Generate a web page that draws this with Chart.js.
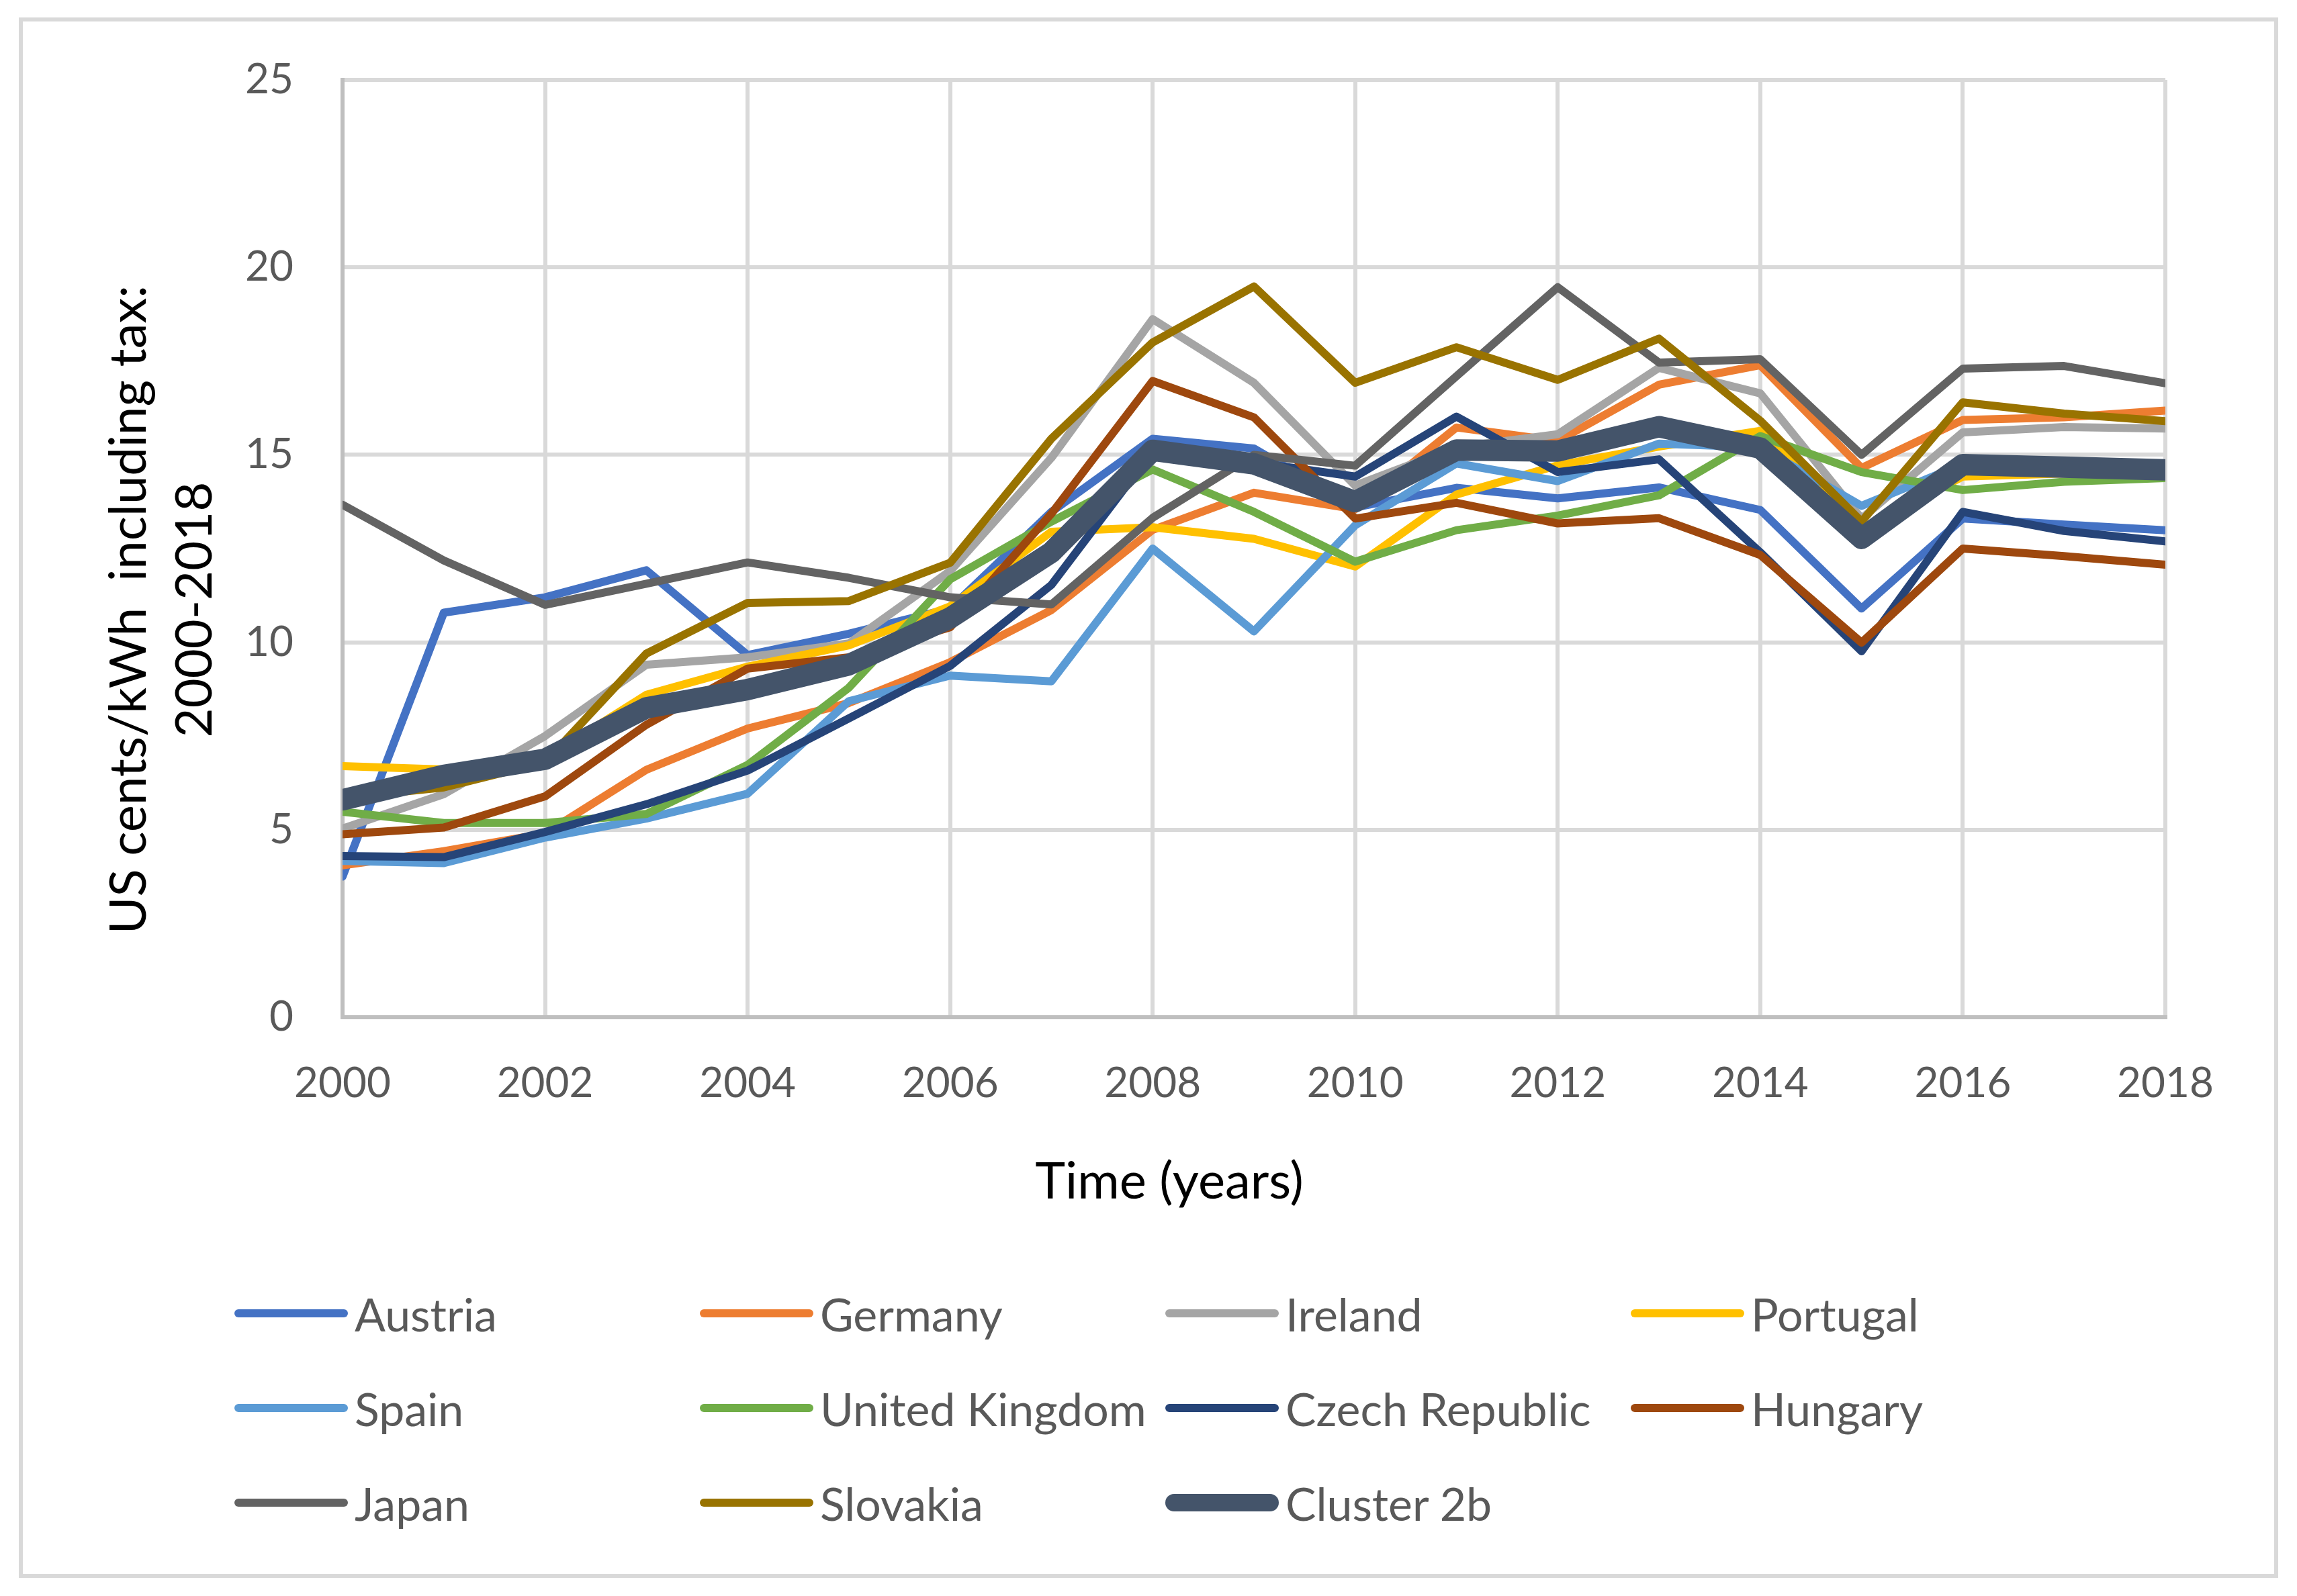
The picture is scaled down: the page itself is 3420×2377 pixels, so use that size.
<!DOCTYPE html>
<html>
<head>
<meta charset="utf-8">
<title>US cents/kWh including tax 2000-2018</title>
<script src="https://cdn.jsdelivr.net/npm/chart.js@4.4.1/dist/chart.umd.min.js"></script>
<style>
  html, body { margin: 0; padding: 0; background: #fff; }
  body { width: 3420px; height: 2377px; position: relative; overflow: hidden; font-family: Lato, "Open Sans", sans-serif; }
  #frame { position: absolute; left: 28px; top: 26px; width: 3364px; height: 2324px; box-sizing: border-box; border: 6px solid #d9d9d9; background: #fff; }
  #plot { position: absolute; left: 0; top: 0; width: 3352px; height: 1800px; }
  .item { position: absolute; height: 100px; display: flex; align-items: center; font-size: 68px; color: #595959; white-space: nowrap; }
  .swatch { display: inline-block; width: 169px; margin-right: 10px; }
</style>
</head>
<body>
<div id="frame">
  <div id="plot"><canvas id="chart"></canvas></div>
  <div id="legend"></div>
</div>
<script>
// Values
const years = [2000, 2001, 2002, 2003, 2004, 2005, 2006, 2007, 2008, 2009,
               2010, 2011, 2012, 2013, 2014, 2015, 2016, 2017, 2018];

const austria  = [3.75, 10.79, 11.2, 11.92, 9.66, 10.23, 10.9, 13.48, 15.43, 15.17, 13.6, 14.12, 13.84, 14.13, 13.53, 10.9, 13.3, 13.14, 12.99];
const germany  = [4.05, 4.43, 4.9, 6.6, 7.7, 8.38, 9.47, 10.86, 13.0, 13.99, 13.55, 15.73, 15.37, 16.87, 17.39, 14.65, 15.93, 16.0, 16.18];
const ireland  = [5.03, 5.95, 7.5, 9.4, 9.6, 9.97, 11.9, 14.92, 18.62, 16.92, 14.18, 15.2, 15.55, 17.32, 16.64, 13.3, 15.6, 15.74, 15.7];
const portugal = [6.7, 6.61, 6.9, 8.6, 9.35, 9.92, 10.96, 12.95, 13.07, 12.76, 12.02, 13.94, 14.72, 15.22, 15.64, 13.0, 14.42, 14.5, 14.5];
const spain    = [4.17, 4.11, 4.79, 5.3, 5.96, 8.43, 9.11, 8.96, 12.5, 10.29, 13.12, 14.77, 14.3, 15.3, 15.2, 13.64, 14.75, 14.7, 14.6];
const uk       = [5.48, 5.18, 5.18, 5.42, 6.73, 8.79, 11.68, 13.22, 14.61, 13.48, 12.15, 12.99, 13.38, 13.92, 15.5, 14.54, 14.06, 14.28, 14.38];
const czech    = [4.3, 4.27, 4.94, 5.68, 6.58, 7.97, 9.37, 11.53, 15.1, 14.8, 14.42, 16.02, 14.54, 14.88, 12.4, 9.76, 13.48, 12.97, 12.69];
const hungary  = [4.88, 5.06, 5.89, 7.8, 9.3, 9.6, 10.4, 13.43, 16.97, 16.0, 13.3, 13.72, 13.17, 13.31, 12.33, 9.99, 12.5, 12.3, 12.07];
const japan    = [13.67, 12.18, 11.0, 11.56, 12.13, 11.72, 11.2, 11.01, 13.32, 15.0, 14.71, 17.1, 19.47, 17.46, 17.55, 15.0, 17.3, 17.37, 16.91];
const slovakia = [5.85, 6.13, 6.8, 9.7, 11.05, 11.1, 12.12, 15.43, 18.0, 19.49, 16.92, 17.87, 17.0, 18.1, 15.91, 13.22, 16.4, 16.1, 15.9];
const cluster  = [5.8, 6.45, 6.88, 8.25, 8.74, 9.4, 10.65, 12.4, 15.12, 14.76, 13.75, 15.13, 15.1, 15.75, 15.18, 12.77, 14.74, 14.67, 14.6];

const seriesNames = ['Austria', 'Germany', 'Ireland', 'Portugal', 'Spain', 'United Kingdom',
                     'Czech Republic', 'Hungary', 'Japan', 'Slovakia', 'Cluster 2b'];
const seriesValues = [austria, germany, ireland, portugal, spain, uk, czech, hungary, japan, slovakia, cluster];
const yTicks = [0, 5, 10, 15, 20, 25];
const xTicks = [2000, 2002, 2004, 2006, 2008, 2010, 2012, 2014, 2016, 2018];

const xTitle = 'Time (years)';
const yTitle = ['US cents/kWh  including tax:', '2000-2018'];

// Excel office palette
const colours = ['#4472C4', '#ED7D31', '#A5A5A5', '#FFC000', '#5B9BD5', '#70AD47',
                 '#264478', '#9E480E', '#636363', '#997300', '#44546A'];

const TICK_FONT = { family: 'Lato', size: 62 };

// axis titles placed where the reference has them (not centred on the plot)
const axisTitles = {
    id: 'axisTitles',
    afterDraw(chart) {
        const ctx = chart.ctx;
        ctx.save();
        ctx.fillStyle = '#000';
        ctx.font = '76px Lato';
        ctx.textAlign = 'center';
        ctx.textBaseline = 'middle';
        ctx.fillText(xTitle, 1707, 1728);
        ctx.translate(158, 876);
        ctx.rotate(-Math.PI / 2);
        ctx.fillText(yTitle[0], 0, 0);
        ctx.fillText(yTitle[1], 0, 98);
        ctx.restore();
    }
};

function draw() {
    const last = seriesNames.length - 1;
    const datasets = seriesNames.map((name, i) => ({
        label: name,
        data: years.map((yr, j) => ({ x: yr, y: seriesValues[i][j] })),
        borderColor: colours[i],
        backgroundColor: colours[i],
        borderWidth: i === last ? 32 : 12,
        borderCapStyle: 'round',
        borderJoinStyle: 'round',
        pointRadius: 0,
        tension: 0,
        fill: false,
        order: seriesNames.length - i   // later series drawn on top, like Excel
    }));

    new Chart(document.getElementById('chart'), {
        type: 'line',
        data: { datasets },
        options: {
            responsive: true,
            maintainAspectRatio: false,
            devicePixelRatio: 1,
            animation: false,
            layout: { padding: { top: 87, right: 162, bottom: 0, left: 0 } },
            plugins: {
                legend: { display: false },
                tooltip: { enabled: false }
            },
            scales: {
                x: {
                    type: 'linear',
                    min: 2000,
                    max: 2018,
                    afterBuildTicks: scale => { scale.ticks = xTicks.map(v => ({ value: v })); },
                    afterFit: scale => { scale.height = 1800 - 1483; },
                    grid: { color: '#d9d9d9', lineWidth: 6, drawTicks: false },
                    border: { color: '#bfbfbf', width: 6 },
                    ticks: {
                        padding: 62,
                        color: '#595959',
                        font: TICK_FONT,
                        maxRotation: 0,
                        autoSkip: false,
                        callback: v => String(v)
                    }
                },
                y: {
                    min: 0,
                    max: 25,
                    afterBuildTicks: scale => { scale.ticks = yTicks.map(v => ({ value: v })); },
                    afterFit: scale => {
                        scale.width = 476;
                        // keep the tick padding from pushing the plot top down
                        scale.paddingTop = 0;
                        scale.paddingBottom = 0;
                    },
                    grid: { color: '#d9d9d9', lineWidth: 6, drawTicks: false },
                    border: { color: '#bfbfbf', width: 6 },
                    ticks: {
                        padding: 73,
                        color: '#595959',
                        font: TICK_FONT,
                        callback: v => String(v)
                    }
                }
            }
        },
        plugins: [axisTitles]
    });

    // legend: four columns, three rows
    const legend = document.getElementById('legend');
    seriesNames.forEach((name, i) => {
        const col = i % 4, row = Math.floor(i / 4);
        const item = document.createElement('div');
        item.className = 'item';
        item.style.left = (315 + col * 693) + 'px';
        item.style.top = (1924 + row * 141 - 50) + 'px';
        const sw = document.createElement('span');
        sw.className = 'swatch';
        const h = i === last ? 26 : 12;
        sw.style.height = h + 'px';
        sw.style.borderRadius = (h / 2) + 'px';
        sw.style.background = colours[i];
        const txt = document.createElement('span');
        txt.textContent = name;
        item.appendChild(sw);
        item.appendChild(txt);
        legend.appendChild(item);
    });
}

document.fonts.load('62px Lato').then(draw, draw);
</script>
</body>
</html>
